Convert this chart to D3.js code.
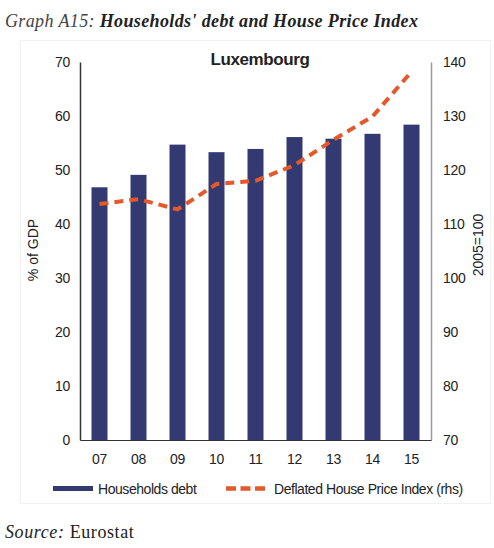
<!DOCTYPE html>
<html>
<head>
<meta charset="utf-8">
<script src="https://cdn.jsdelivr.net/npm/d3@7"></script>
<style>
  body { margin: 0; background: #fff; }
  svg text { font-family: "Liberation Sans", Arial, sans-serif; fill: #222; }
  .serif { font-family: "Liberation Serif", "Times New Roman", serif; }
</style>
</head>
<body>
<div id="chart"></div>
<script>
// Chart data
const years = ["07", "08", "09", "10", "11", "12", "13", "14", "15"];
const debt = [46.8, 49.1, 54.7, 53.3, 53.9, 56.1, 55.8, 56.7, 58.4];
const hpi = [113.7, 114.6, 112.7, 117.4, 118.0, 120.9, 125.6, 129.9, 138.2];
const leftTicks = [0, 10, 20, 30, 40, 50, 60, 70];
const rightTicks = [70, 80, 90, 100, 110, 120, 130, 140];

const width = 494;
const height = 548;
const margin = { top: 62, right: 63, bottom: 108, left: 80 };

const svg = d3.select("#chart").append("svg")
    .attr("width", width)
    .attr("height", height);

// faint frame around chart area
svg.append("rect")
    .attr("x", 20.5).attr("y", 40.5)
    .attr("width", 470).attr("height", 463)
    .attr("fill", "none")
    .attr("stroke", "#f1f1f1");

const x = d3.scaleBand()
    .domain(years)
    .range([margin.left, width - margin.right])
    .paddingInner(0.59)
    .paddingOuter(0.295);

const yL = d3.scaleLinear().domain([0, 70]).range([height - margin.bottom, margin.top]);
const yR = d3.scaleLinear().domain([70, 140]).range([height - margin.bottom, margin.top]);

// bars
svg.append("g")
    .selectAll("rect")
    .data(years)
    .join("rect")
    .attr("x", d => x(d))
    .attr("width", x.bandwidth())
    .attr("y", (d, i) => yL(debt[i]))
    .attr("height", (d, i) => yL(0) - yL(debt[i]))
    .attr("fill", "#333a72");

// line
const line = d3.line()
    .x((d, i) => x(years[i]) + x.bandwidth() / 2)
    .y(d => yR(d));

svg.append("path")
    .datum(hpi)
    .attr("d", line)
    .attr("fill", "none")
    .attr("stroke", "#e4582a")
    .attr("stroke-width", 4)
    .attr("stroke-dasharray", "9,6");

// axes
const leftAxis = svg.append("g")
    .attr("transform", `translate(${margin.left},0)`)
    .call(d3.axisLeft(yL).tickValues(leftTicks).tickSize(0).tickPadding(10));
leftAxis.select(".domain").attr("stroke", "#333").attr("stroke-width", 1.5);

const rightAxis = svg.append("g")
    .attr("transform", `translate(${width - margin.right},0)`)
    .call(d3.axisRight(yR).tickValues(rightTicks).tickSize(0).tickPadding(12));
rightAxis.select(".domain").attr("stroke", "#999").attr("stroke-width", 1.5);

const bottomAxis = svg.append("g")
    .attr("transform", `translate(0,${height - margin.bottom})`)
    .call(d3.axisBottom(x).tickSize(0).tickPadding(14));
bottomAxis.select(".domain").attr("stroke", "#333").attr("stroke-width", 1.2);

svg.selectAll(".tick text")
    .attr("font-size", 14)
    .attr("font-family", "'Liberation Sans', Arial, sans-serif")
    .attr("letter-spacing", -0.3)
    .attr("fill", "#222");

// axis titles
svg.append("text")
    .attr("transform", "translate(38,250) rotate(-90)")
    .attr("text-anchor", "middle")
    .attr("font-size", 14)
    .text("% of GDP");

svg.append("text")
    .attr("transform", "translate(483,245) rotate(-90)")
    .attr("text-anchor", "middle")
    .attr("font-size", 14)
    .text("2005=100");

// chart title
svg.append("text")
    .attr("x", 260).attr("y", 65)
    .attr("text-anchor", "middle")
    .attr("font-size", 17)
    .attr("font-weight", "bold")
    .attr("letter-spacing", -0.4)
    .attr("fill", "#111")
    .text("Luxembourg");

// header
const head = svg.append("text")
    .attr("class", "serif")
    .attr("x", 5).attr("y", 27)
    .attr("font-size", 18)
    .attr("font-style", "italic")
    .attr("letter-spacing", 0.37)
    .attr("fill", "#111");
head.append("tspan").attr("fill", "#444").text("Graph A15: ");
head.append("tspan").attr("font-weight", "bold").text("Households' debt and House Price Index");

// source
const src = svg.append("text")
    .attr("class", "serif")
    .attr("x", 5).attr("y", 538)
    .attr("font-size", 18)
    .attr("letter-spacing", 0.6)
    .attr("fill", "#333");
src.append("tspan").attr("font-style", "italic").text("Source: ");
src.append("tspan").text("Eurostat");

// legend
const legend = svg.append("g");
legend.append("rect")
    .attr("x", 53).attr("y", 486)
    .attr("width", 40).attr("height", 5)
    .attr("fill", "#333a72");
legend.append("text")
    .attr("x", 98).attr("y", 494)
    .attr("font-size", 14)
    .attr("letter-spacing", -0.45)
    .text("Households debt");
legend.append("line")
    .attr("x1", 226).attr("x2", 266)
    .attr("y1", 488.5).attr("y2", 488.5)
    .attr("stroke", "#e4582a")
    .attr("stroke-width", 4.5)
    .attr("stroke-dasharray", "10,4.5");
legend.append("text")
    .attr("x", 274).attr("y", 494)
    .attr("font-size", 14)
    .attr("letter-spacing", -0.45)
    .text("Deflated House Price Index (rhs)");
</script>
</body>
</html>
